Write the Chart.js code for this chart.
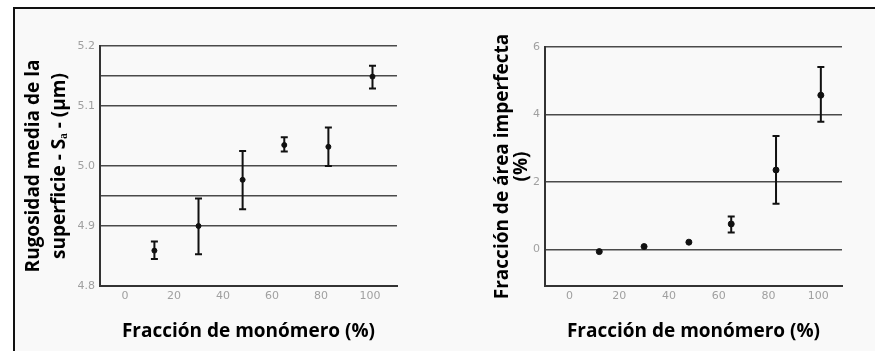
<!DOCTYPE html>
<html>
<head>
<meta charset="utf-8">
<script src="https://cdn.jsdelivr.net/npm/chart.js@4.4.1/dist/chart.umd.min.js"></script>
<style>
  html, body { margin:0; padding:0; background:#fff; }
  #page  { position:relative; width:875px; height:351px; overflow:hidden; }
  #frame { position:absolute; left:13px; top:7px; width:900px; height:400px;
           border-top:2px solid #111; border-left:2px solid #111; background:#f9f9f9; }
  canvas { position:absolute; top:0; }
</style>
</head>
<body>
<div id="page">
  <div id="frame"></div>
  <canvas id="roughChart" width="437" height="351" style="left:0"></canvas>
  <canvas id="areaChart" width="438" height="351" style="left:437px"></canvas>
</div>
<script>
// monomer fraction (%) for each sample
var monomer   = [12, 30, 48, 65, 83, 101];
var xTicks    = [0, 20, 40, 60, 80, 100];

// left panel: mean surface roughness Sa (um) with error bar ends
var roughMean = [4.859, 4.900, 4.977, 5.035, 5.032, 5.149];
var roughLow  = [4.845, 4.853, 4.928, 5.024, 5.000, 5.129];
var roughHigh = [4.874, 4.946, 5.025, 5.048, 5.064, 5.167];
var roughLabels = [4.8, 4.9, 5.0, 5.1, 5.2];
var roughGrid   = [4.9, 4.95, 5.0, 5.1, 5.15, 5.2];

// right panel: imperfect area fraction (%)
var areaMean = [-0.07, 0.08, 0.21, 0.75, 2.35, 4.57];
var areaLow  = [null, null, null, 0.50, 1.35, 3.78];
var areaHigh = [null, null, null, 0.97, 3.36, 5.41];
var areaLabels = [0, 2, 4, 6];
var areaGrid   = [0, 2, 4, 6];

var errorBars = {
    id: 'errorBars',
    afterDatasetsDraw: function (chart, args, opts) {
        var ctx = chart.ctx, xs = chart.scales.x, ys = chart.scales.y;
        var pts = chart.data.datasets[0].data;
        ctx.save();
        ctx.strokeStyle = '#111';
        ctx.lineWidth = 2;
        pts.forEach(function (p, i) {
            if (opts.low[i] == null) return;
            var x  = xs.getPixelForValue(p.x),
                y1 = ys.getPixelForValue(opts.low[i]),
                y2 = ys.getPixelForValue(opts.high[i]);
            ctx.beginPath();
            ctx.moveTo(x, y1); ctx.lineTo(x, y2);
            ctx.moveTo(x - 3.5, y1); ctx.lineTo(x + 3.5, y1);
            ctx.moveTo(x - 3.5, y2); ctx.lineTo(x + 3.5, y2);
            ctx.stroke();
        });
        ctx.restore();
    }
};

function union(a, b) {
    var out = a.slice();
    b.forEach(function (v) { if (out.indexOf(v) < 0) out.push(v); });
    return out.sort(function (p, q) { return p - q; });
}

var tickFont = { family: 'DejaVu Sans', size: 11 };
var titleFont = { family: 'Open Sans', size: 19, weight: 'bold', lineHeight: 1.2 };

function makeChart(id, c) {
    var yValues = union(c.labels, c.grid);
    return new Chart(document.getElementById(id), {
        type: 'scatter',
        data: {
            datasets: [{
                data: monomer.map(function (m, i) { return { x: m, y: c.mean[i] }; }),
                backgroundColor: '#111', borderColor: '#111',
                pointRadius: c.radius, pointHoverRadius: c.radius
            }]
        },
        plugins: [errorBars],
        options: {
            responsive: false, animation: false,
            layout: { padding: c.padding },
            plugins: {
                legend: { display: false }, tooltip: { enabled: false },
                errorBars: { low: c.low, high: c.high }
            },
            scales: {
                x: {
                    type: 'linear', min: c.xMin, max: c.xMax,
                    afterBuildTicks: function (s) { s.ticks = xTicks.map(function (v) { return { value: v }; }); },
                    afterFit: function (s) { s.height = 65; },
                    grid: { display: false, drawTicks: false },
                    border: { color: '#333', width: 2 },
                    ticks: { color: '#a0a0a0', font: tickFont, padding: 4 },
                    title: { display: true, text: 'Fracción de monómero (%)', color: '#000',
                             font: titleFont, padding: { top: 0, bottom: 8 } }
                },
                y: {
                    type: 'linear', min: c.yMin, max: c.yMax,
                    afterBuildTicks: function (s) { s.ticks = yValues.map(function (v) { return { value: v }; }); },
                    afterFit: function (s) { s.width = c.yWidth; },
                    grid: {
                        drawTicks: false, lineWidth: 1.4,
                        color: function (ctx) {
                            return c.grid.indexOf(ctx.tick.value) >= 0 ? '#4a4a4a' : 'rgba(0,0,0,0)';
                        }
                    },
                    border: { color: '#333', width: 2 },
                    ticks: {
                        color: '#a0a0a0', font: tickFont, padding: 5,
                        callback: function (v) { return c.labels.indexOf(v) >= 0 ? c.fmt(v) : ''; }
                    },
                    title: { display: true, text: c.title, color: '#000',
                             font: { family: 'Open Sans', size: 19, weight: 'bold', lineHeight: c.titleLH },
                             padding: { top: c.titlePad, bottom: 0 } }
                }
            }
        }
    });
}

makeChart('roughChart', {
    mean: roughMean, low: roughLow, high: roughHigh,
    labels: roughLabels, grid: roughGrid,
    yMin: 4.8, yMax: 5.2, xMin: -10.2, xMax: 111,
    fmt: function (v) { return v.toFixed(1); },
    title: ['Rugosidad media de la', 'superficie - S\u2090 - (\u00b5m)'],
    titleLH: 1.37, titlePad: 21, yWidth: 100, radius: 2.5,
    padding: { left: 0, right: 40, top: 46, bottom: 0 }
});

makeChart('areaChart', {
    mean: areaMean, low: areaLow, high: areaHigh,
    labels: areaLabels, grid: areaGrid,
    yMin: -1.09, yMax: 6, xMin: -9.8, xMax: 109.5,
    fmt: function (v) { return String(v); },
    title: ['Fracción de área imperfecta', '(%)'],
    titleLH: 1.0, titlePad: 56.5, yWidth: 108, radius: 3,
    padding: { left: 0, right: 33, top: 47, bottom: 0 }
});
</script>
</body>
</html>
